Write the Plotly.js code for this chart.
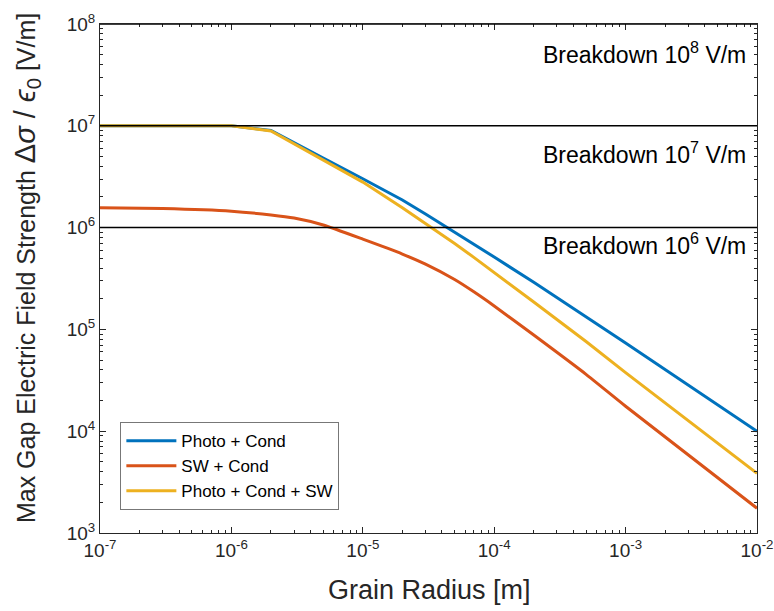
<!DOCTYPE html>
<html>
<head>
<meta charset="utf-8">
<script src="https://cdn.plot.ly/plotly-3.0.1.min.js"></script>
<style>html,body{margin:0;padding:0;background:#fff;}#chart{width:774px;height:611px;}</style>
</head>
<body>
<div id="chart"></div>
<script>
// Grain radius [m]
const radius = [1e-7, 3e-7, 1e-6, 2e-6, 3e-6, 5e-6, 1e-5, 2e-5, 3e-5, 5e-5, 7e-5, 1e-4, 2e-4, 5e-4, 1e-3, 1e-2];
// Photo + Cond
const photoCond = [1.0e7, 1.0e7, 1.0e7, 9.0e6, 6.8e6, 4.82e6, 3.02e6, 1.87e6, 1.36e6, 9.06e5, 6.8e5, 5.14e5, 2.9e5, 1.33e5, 7.35e4, 1.0e4];
// SW + Cond
const swCond = [1.57e6, 1.54e6, 1.45e6, 1.33e6, 1.24e6, 1.06e6, 7.7e5, 5.5e5, 4.37e5, 3.09e5, 2.34e5, 1.70e5, 8.8e4, 3.62e4, 1.76e4, 1.75e3];
// Photo + Cond + SW
const photoCondSW = [1.0e7, 1.0e7, 1.0e7, 8.9e6, 6.65e6, 4.6e6, 2.8e6, 1.57e6, 1.1e6, 6.97e5, 5.1e5, 3.64e5, 1.86e5, 7.6e4, 3.76e4, 3.86e3];
const seriesNames = ['Photo + Cond', 'SW + Cond', 'Photo + Cond + SW'];
const seriesColors = ['#0072BD', '#D95319', '#EDB120'];
const seriesShape = ['linear', 'spline', 'linear'];
// Breakdown thresholds [V/m]
const breakdown = [1e8, 1e7, 1e6];
const breakdownLabels = ['Breakdown 10<sup>8</sup> V/m', 'Breakdown 10<sup>7</sup> V/m', 'Breakdown 10<sup>6</sup> V/m'];
const breakdownLabelPos = [10**7.72, 10**6.73, 10**5.84];
const xTickVals = [1e-7, 1e-6, 1e-5, 1e-4, 1e-3, 1e-2];
const xTickText = ['10<sup>-7</sup>', '10<sup>-6</sup>', '10<sup>-5</sup>', '10<sup>-4</sup>', '10<sup>-3</sup>', '10<sup>-2</sup>'];
const yTickVals = [1e3, 1e4, 1e5, 1e6, 1e7, 1e8];
const yTickText = ['10<sup>3</sup>', '10<sup>4</sup>', '10<sup>5</sup>', '10<sup>6</sup>', '10<sup>7</sup>', '10<sup>8</sup>'];
const xTitle = 'Grain Radius [m]';
const yTitle = 'Max Gap Electric Field Strength <span style="font-size:29px">Δ<i>σ</i> / <i>ϵ</i><sub>0</sub></span> [V/m]';

const ys = [photoCond, swCond, photoCondSW];
const traces = ys.map((y, i) => ({
  x: radius, y: y, type: 'scatter', mode: 'lines', name: seriesNames[i],
  line: {color: seriesColors[i], width: 3, shape: seriesShape[i], smoothing: 0.5}
}));

const axColor = '#262626';
const fontFam = 'Liberation Sans, Arial, sans-serif';
const shapes = breakdown.map(b => ({
  type: 'line', xref: 'paper', x0: 0, x1: 1, yref: 'y', y0: b, y1: b,
  line: {color: '#000', width: 1.5}
}));
const annotations = breakdownLabels.map((t, i) => ({
  text: t, xref: 'paper', x: 0.986, xanchor: 'right', yref: 'y', y: Math.log10(breakdownLabelPos[i]),
  yanchor: 'middle', showarrow: false, font: {family: fontFam, size: 23, color: '#000'}
}));
annotations.push({
  text: xTitle, xref: 'paper', yref: 'paper', x: 0.502, y: -0.112, xanchor: 'center', yanchor: 'middle',
  showarrow: false, font: {family: fontFam, size: 27, color: axColor}
});
annotations.push({
  text: yTitle, xref: 'paper', yref: 'paper', x: -0.11, y: 0.52, xanchor: 'center', yanchor: 'middle',
  textangle: -90, showarrow: false, font: {family: fontFam, size: 25, color: axColor}
});

const layout = {
  width: 774, height: 611,
  margin: {l: 100, r: 17, t: 24, b: 78},
  paper_bgcolor: '#fff', plot_bgcolor: '#fff',
  font: {family: fontFam, color: axColor},
  showlegend: true,
  legend: {x: 0.031, y: 0.045, xanchor: 'left', yanchor: 'bottom', bgcolor: '#fff',
    bordercolor: '#777', borderwidth: 1, font: {family: fontFam, size: 17, color: '#000'},
    tracegroupgap: 0, itemwidth: 50},
  xaxis: {
    type: 'log', range: [-7.0001, -1.9999], tickmode: 'array', tickvals: xTickVals, ticktext: xTickText,
    showgrid: false, zeroline: false, showline: true, linecolor: axColor, linewidth: 1,
    mirror: 'allticks', ticks: 'inside', ticklen: 6, tickcolor: axColor,
    minor: {ticks: 'inside', ticklen: 3, tickcolor: axColor, dtick: 'D1', showgrid: false},
    tickfont: {size: 19, color: axColor}
  },
  yaxis: {
    type: 'log', range: [2.9999, 8.0001], tickmode: 'array', tickvals: yTickVals, ticktext: yTickText,
    showgrid: false, zeroline: false, showline: true, linecolor: axColor, linewidth: 1,
    mirror: 'allticks', ticks: 'inside', ticklen: 6, tickcolor: axColor,
    minor: {ticks: 'inside', ticklen: 3, tickcolor: axColor, dtick: 'D1', showgrid: false},
    tickfont: {size: 19, color: axColor}
  },
  shapes: shapes,
  annotations: annotations
};

Plotly.newPlot('chart', traces, layout, {displayModeBar: false, staticPlot: true});
</script>
</body>
</html>
